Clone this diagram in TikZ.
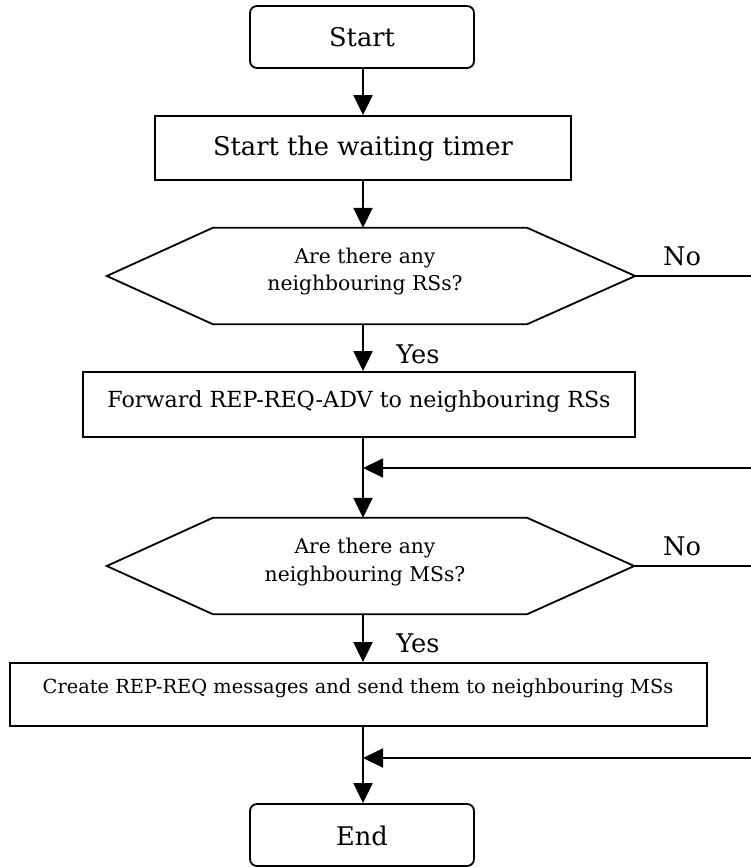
\documentclass[tikz,border=0pt]{standalone}
\usepackage{fontspec}
\setmainfont{DejaVu Serif}
\usetikzlibrary{arrows.meta,calc}

\tikzset{
  line/.style={line width=1.8pt, draw=black},
  arr/.style={line, -{Triangle[width=19pt,length=20pt]}},
  terminal/.style={line, rounded corners=7pt, minimum width=224pt, minimum height=62pt, inner sep=0pt},
  procbox/.style={line, minimum height=64pt, inner sep=0pt},
  hexcore/.style={minimum width=314pt, minimum height=96pt, inner sep=0pt},
  txt/.style={inner sep=0pt, anchor=base},
  bigtxt/.style={txt, font=\fontsize{25.7}{30}\selectfont},
  hextxt/.style={txt, font=\fontsize{20.3}{24}\selectfont},
}

\begin{document}
\begin{tikzpicture}[x=1pt, y=-1pt]
  \useasboundingbox (0,0) rectangle (751,867);
  \clip (0,0) rectangle (751,867);

  % main vertical axis and the right-hand edge
  \coordinate (axis) at (363,0);
  \coordinate (edge) at (751,0);

  % terminals and process boxes
  \node[terminal] (start) at (362,37) {};
  \node[bigtxt] (starttxt) at (362,47) {Start};
  \node[procbox, minimum width=416pt] (timer) at (363,148) {};
  \node[bigtxt] (timertxt) at (363,155) {Start the waiting timer};
  \node[procbox, minimum width=552pt, minimum height=65pt] (fwd) at (359,404.5) {};
  \node[txt, font=\fontsize{22.2}{26}\selectfont] (fwdtxt) at (359,407) {Forward REP-REQ-ADV to neighbouring RSs};
  \node[procbox, minimum width=697pt, minimum height=63pt] (create) at (358.5,694.5) {};
  \node[txt, font=\fontsize{19.4}{23}\selectfont] (createtxt) at (358,693) {Create REP-REQ messages and send them to neighbouring MSs};
  \node[terminal] (end) at (362,835) {};
  \node[bigtxt] (endtxt) at (362,845) {End};

  % decision hexagons: a core rectangle with pointed ends
  \node[hexcore] (q1) at (370,276) {};
  \coordinate (q1l) at ($(q1.west)+(-106,0)$);
  \coordinate (q1r) at ($(q1.east)+(108,0)$);
  \draw[line] (q1.north west) -- (q1.north east) -- (q1r) -- (q1.south east)
              -- (q1.south west) -- (q1l) -- cycle;
  \node[hextxt] (q1a) at (365,263) {Are there any};
  \node[hextxt] (q1b) at (365,290) {neighbouring RSs?};

  \node[hexcore] (q2) at (370,566) {};
  \coordinate (q2l) at ($(q2.west)+(-106,0)$);
  \coordinate (q2r) at ($(q2.east)+(107,0)$);
  \draw[line] (q2.north west) -- (q2.north east) -- (q2r) -- (q2.south east)
              -- (q2.south west) -- (q2l) -- cycle;
  \node[hextxt] (q2a) at (365,553) {Are there any};
  \node[hextxt] (q2b) at (365,581) {neighbouring MSs?};

  % flow along the main axis
  \draw[arr] (start.south -| axis) -- (timer.north -| axis);
  \draw[arr] (timer.south -| axis) -- (q1.north -| axis);
  \draw[arr] (q1.south -| axis) -- (fwd.north -| axis);
  \draw[arr] (fwd.south -| axis) -- (q2.north -| axis);
  \draw[arr] (q2.south -| axis) -- (create.north -| axis);
  \draw[arr] (create.south -| axis) -- (end.north -| axis);

  % branch labels
  \node[bigtxt] (yes1) at (418,363) {Yes};
  \node[bigtxt] (yes2) at (418,652) {Yes};
  \node[bigtxt] (no1) at (682,265) {No};
  \node[bigtxt] (no2) at (682,555) {No};

  % "No" branches leaving to the right and the returning lines
  \draw[line] (q1r) -- (q1r -| edge);
  \draw[line] (q2r) -- (q2r -| edge);
  \coordinate (ret1) at (751,468);
  \coordinate (ret2) at (751,758);
  \draw[arr] (ret1) -- (ret1 -| axis);
  \draw[arr] (ret2) -- (ret2 -| axis);
\end{tikzpicture}
\end{document}
